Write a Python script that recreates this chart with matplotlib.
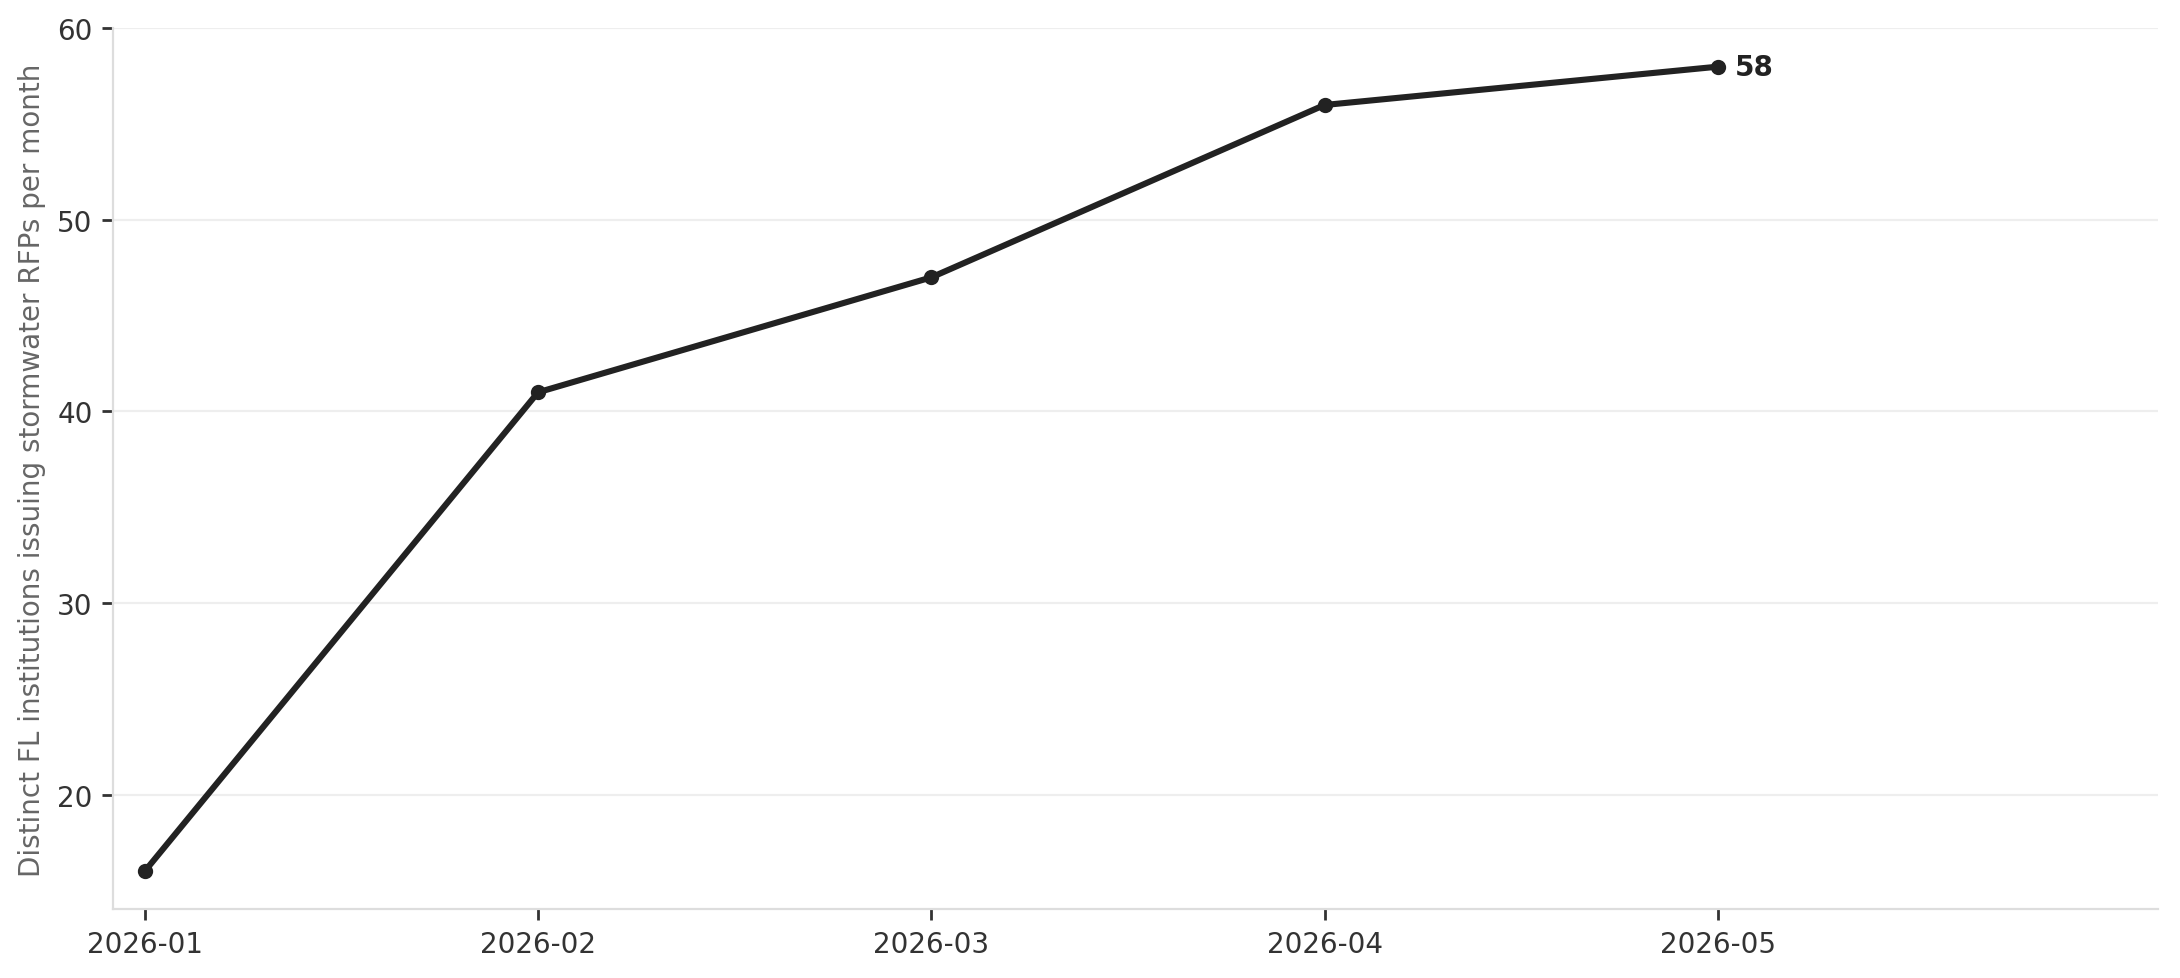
import matplotlib.pyplot as plt

months = ["2026-01", "2026-02", "2026-03", "2026-04", "2026-05"]
institutions = [16, 41, 47, 56, 58]

plt.rcParams['font.family'] = ['DejaVu Sans']

fig, ax = plt.subplots(figsize=(10.9, 4.895), dpi=200)
fig.subplots_adjust(left=0.052, right=0.990, top=0.970, bottom=0.070)

x = list(range(len(months)))
ax.plot(x, institutions, color="#222222", linewidth=2.2, marker="o", markersize=4.5, zorder=3)

# label the last point
ax.annotate(str(institutions[-1]), (x[-1], institutions[-1]), xytext=(6, 0),
            textcoords="offset points", va="center", ha="left",
            fontsize=10, fontweight="bold", color="#222222")

ax.set_xticks(x)
ax.set_xticklabels(months)
ax.set_xlim(-0.08, 5.12)
ax.set_ylim(14, 60)
ax.set_yticks([20, 30, 40, 50, 60])

ax.set_ylabel("Distinct FL institutions issuing stormwater RFPs per month", color="#666666", fontsize=10)
ax.tick_params(labelsize=10, colors="#333333", length=4, width=1)
ax.grid(axis="y", color="#eeeeee", linewidth=0.8)
ax.set_axisbelow(True)

for side in ["top", "right"]:
    ax.spines[side].set_visible(False)
for side in ["left", "bottom"]:
    ax.spines[side].set_color("#dddddd")

plt.savefig("out.png", dpi=200)
